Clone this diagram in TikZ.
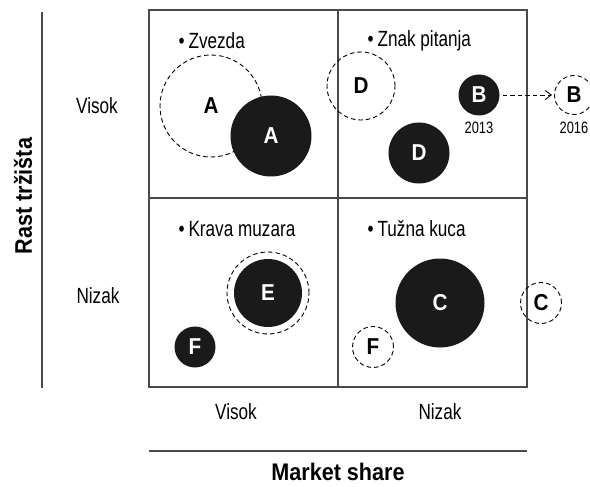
\documentclass[tikz,border=0pt]{standalone}
\usepackage{fontspec}
\setmainfont{Liberation Sans}[FakeStretch=0.78, BoldFeatures={FakeStretch=0.9}]
\usetikzlibrary{positioning,arrows.meta}
\definecolor{ink}{HTML}{1A1A1A}
\definecolor{rule}{HTML}{4A4A4A}

\begin{document}
\begin{tikzpicture}[x=1pt, y=-1pt,
    every node/.style={font=\fontsize{22}{24}\selectfont},
    grid/.style={line width=1.4pt, draw=rule},
    full/.style={circle, fill=ink, text=white, inner sep=0pt, font=\fontsize{23}{26}\selectfont\bfseries},
    ghost/.style={circle, draw=black, line width=0.9pt, dash pattern=on 4.5pt off 3pt, inner sep=0pt, font=\fontsize{23}{26}\selectfont\bfseries},
    year/.style={font=\fontsize{16.5}{18}\selectfont},
    axis/.style={font=\fontsize{24}{26}\selectfont\bfseries},
    title/.style={anchor=west}]
  \useasboundingbox (0,0) rectangle (590,487);

  \coordinate (tl) at (149,10);
  \coordinate (br) at (527,387);
  \coordinate (mt) at (338,10);
  \coordinate (mb) at (338,387);
  \coordinate (ml) at (149,198);
  \coordinate (mr) at (527,198);

  % matrix
  \draw[grid] (tl) rectangle (br);
  \draw[grid] (mt) -- (mb);
  \draw[grid] (ml) -- (mr);

  % axes
  \coordinate (vtop) at (42,12);
  \coordinate (vbot) at (42,388);
  \coordinate (hl)   at (149,451);
  \coordinate (hr)   at (527,451);
  \draw[grid] (vtop) -- (vbot);
  \draw[grid] (hl) -- (hr);
  \node[axis, rotate=90] (rast) at (23,196) {Rast tržišta};
  \node[axis] (share) at (338,472) {Market share};
  \node (vhigh) at (97,106) {Visok};
  \node (vlow)  at (98,296) {Nizak};
  \node (hhigh) at (236,412) {Visok};
  \node (hlow)  at (440,412) {Nizak};

  % quadrant titles
  \node[title] (star)  at (175,41)  {•\hspace{4pt}Zvezda};
  \node[title] (quest) at (364,41)  {•\hspace{4pt}Znak pitanja};
  \node[title] (cow)   at (175,229) {•\hspace{4pt}Krava muzara};
  \node[title] (dog)   at (364,229) {•\hspace{4pt}Tužna kuca};

  % products
  \node[ghost, minimum size=102pt] (A0) at (211,106) {A};
  \node[full,  minimum size=81pt]  (A1) at (271,136) {A};
  \node[ghost, minimum size=68pt]  (D0) at (361,86)  {D};
  \node[full,  minimum size=61pt]  (D1) at (419,153) {D};
  \node[full,  minimum size=41pt]  (B1) at (479,95)  {B};
  \node[ghost, minimum size=39pt]  (B2) at (574,95)  {B};
  \node[year] (y13) at (479,128) {2013};
  \node[year] (y16) at (574,128) {2016};
  \draw[line width=0.9pt, dash pattern=on 4.5pt off 3pt,
        -{Straight Barb[length=6pt, width=9pt, line width=0.9pt]},
        shorten <=3pt, shorten >=2pt] (B1) -- (B2);

  \node[ghost, minimum size=82pt]  (E0) at (268,293) {};
  \node[full,  minimum size=68pt]  (E1) at (268,293) {E};
  \node[full,  minimum size=41pt]  (F1) at (195,347) {F};
  \node[full,  minimum size=89pt]  (C1) at (440,303) {C};
  \node[ghost, minimum size=41pt]  (F0) at (373,347) {F};
  \node[ghost, minimum size=41pt]  (C0) at (541,303) {C};
\end{tikzpicture}
\end{document}
